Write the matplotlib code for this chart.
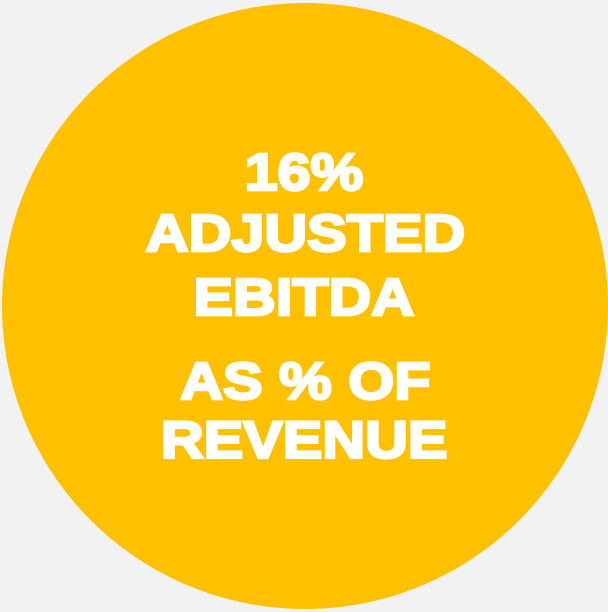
import matplotlib
matplotlib.use("Agg")
import matplotlib.pyplot as plt
from matplotlib.patches import Circle, PathPatch
from matplotlib.textpath import TextPath
from matplotlib.font_manager import FontProperties
from matplotlib.transforms import Affine2D

# Data
value_pct = 16
label_lines = ["ADJUSTED", "EBITDA", "AS % OF", "REVENUE"]

# Colours
bg_color = "#F2F2F2"
circle_color = "#FFC000"

fig = plt.figure(figsize=(6.08, 6.12), dpi=100, facecolor=bg_color)
ax = fig.add_axes([0, 0, 1, 1])
ax.set_xlim(0, 608)
ax.set_ylim(612, 0)
ax.set_aspect("equal")
ax.axis("off")

# Big yellow disc
ax.add_patch(Circle((305, 306), 303, color=circle_color, lw=0))

# Heavy white text: bold sans, stretched a little wider (Arial Black look)
fp = FontProperties(family="Liberation Sans", weight="bold")
size = 52
x_stretch = 1.14

lines = [f"{value_pct}%"] + label_lines
y_pos = [172, 233, 297, 381, 440]
for txt, y in zip(lines, y_pos):
    tp = TextPath((0, 0), txt, size=size, prop=fp)
    ext = tp.get_extents()
    cx = (ext.x0 + ext.x1) / 2
    cy = (ext.y0 + ext.y1) / 2
    tr = Affine2D().translate(-cx, -cy).scale(x_stretch, -1).translate(305, y)
    path = tr.transform_path(tp)
    ax.add_patch(PathPatch(path, facecolor="white", edgecolor="white", lw=2.1,
                           joinstyle="miter"))

fig.savefig("out.png", dpi=100, facecolor=bg_color)
